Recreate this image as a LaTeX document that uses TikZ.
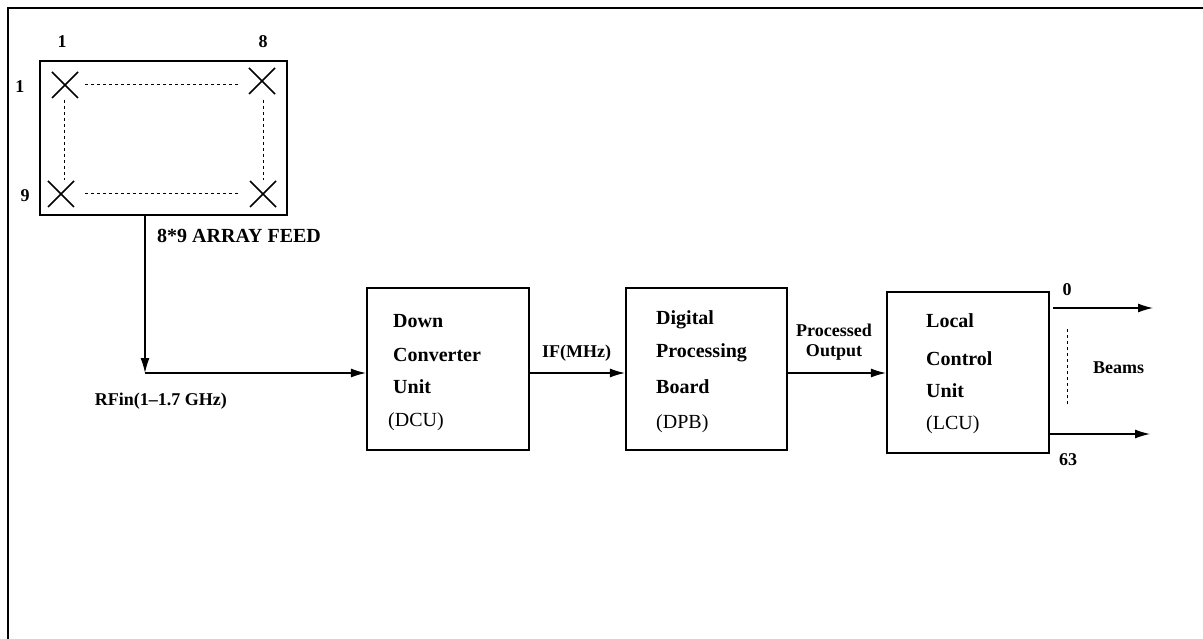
\documentclass[tikz,border=0pt]{standalone}
\usepackage{fontspec}
\setmainfont{Liberation Serif}
\usetikzlibrary{arrows.meta,calc}
\tikzset{
  blk/.style={draw, line width=2.2pt, inner sep=0pt},
  conn/.style={line width=1.2pt, -{Latex[length=15pt,width=9pt]}},
  plain/.style={line width=1.2pt},
  dots/.style={line width=1pt, dash pattern=on 3pt off 3pt},
  big/.style={font=\fontsize{20}{24}\selectfont\bfseries, inner sep=0pt},
  bigr/.style={font=\fontsize{20}{24}\selectfont, inner sep=0pt},
  small/.style={font=\fontsize{18}{20}\selectfont\bfseries, inner sep=0pt},
  xmark/.style={line width=1.6pt}
}
\begin{document}
\begin{tikzpicture}[x=1pt,y=-1pt]
\useasboundingbox (0,0) rectangle (1203,639);
% frame
\draw[line width=2.2pt] (8,639) -- (8,8) -- (1203,8);
% array feed box
\node[blk, minimum width=247pt, minimum height=154pt] (arr) at (163.5,138) {};
\draw[xmark] (52,72) -- (78,98) (52,98) -- (78,72);
\draw[xmark] (249,68) -- (275,94) (249,94) -- (275,68);
\draw[xmark] (48,181) -- (74,207) (48,207) -- (74,181);
\draw[xmark] (250,181) -- (276,207) (250,207) -- (276,181);
\draw[dots] (85,85) -- (238,85);
\draw[dots] (85,194) -- (238,194);
\draw[dots] (64,100) -- (64,180);
\draw[dots] (263,100) -- (263,180);
\node[small, anchor=base] (c1) at (62,48) {1};
\node[small, anchor=base] (c8) at (263,48) {8};
\node[small, anchor=base] (r1) at (20,93) {1};
\node[small, anchor=base] (r9) at (25,202) {9};
\node[big, anchor=base west] (feedlbl) at (157,243) {8*9 ARRAY FEED};
% blocks
\node[blk, minimum width=162pt, minimum height=162pt] (dcu) at (448,369) {};
\node[blk, minimum width=161pt, minimum height=162pt] (dpb) at (706.5,369) {};
\node[blk, minimum width=162pt, minimum height=161pt] (lcu) at (968,372.5) {};
% block texts
\node[big, anchor=base west] (d1) at (393,327.5) {Down};
\node[big, anchor=base west] (d2) at (393,361) {Converter};
\node[big, anchor=base west] (d3) at (393,393) {Unit};
\node[bigr, anchor=base west] (d4) at (388,426) {(DCU)};
\node[big, anchor=base west] (p1) at (656,324) {Digital};
\node[big, anchor=base west] (p2) at (656,357) {Processing};
\node[big, anchor=base west] (p3) at (656,393) {Board};
\node[bigr, anchor=base west] (p4) at (656,428) {(DPB)};
\node[big, anchor=base west] (l1) at (926,327) {Local};
\node[big, anchor=base west] (l2) at (926,365) {Control};
\node[big, anchor=base west] (l3) at (926,397) {Unit};
\node[bigr, anchor=base west] (l4) at (926,429) {(LCU)};
% connectors
\coordinate (rf) at (145,373);
\draw[conn] (arr.south -| rf) -- (rf);
\draw[conn] (rf) -- (rf -| dcu.west);
\node[small, anchor=base east] (rflbl) at (227,405) {RFin(1--1.7 GHz)};
\coordinate (y1) at (0,373);
\draw[conn] (dcu.east |- y1) -- (dpb.west |- y1);
\node[small, anchor=base west] (iflbl) at (542,357) {IF(MHz)};
\draw[conn] (dpb.east |- y1) -- (lcu.west |- y1);
\node[small, anchor=base, align=center] (po1) at (834,337) {Processed};
\node[small, anchor=base, align=center] (po2) at (834,356) {Output};
% beams
\coordinate (b0s) at (1053,308);
\coordinate (b0e) at (1153,308);
\coordinate (b63s) at (1049,434);
\coordinate (b63e) at (1150,434);
\draw[conn] (b0s) -- (b0e);
\draw[conn] (b63s) -- (b63e);
\draw[dots] (1067,329) -- (1067,405);
\node[small, anchor=base] (zero) at (1067,295) {0};
\node[small, anchor=base] (sixtythree) at (1068,465) {63};
\node[small, anchor=base west] (beams) at (1093,373) {Beams};
\end{tikzpicture}
\end{document}
